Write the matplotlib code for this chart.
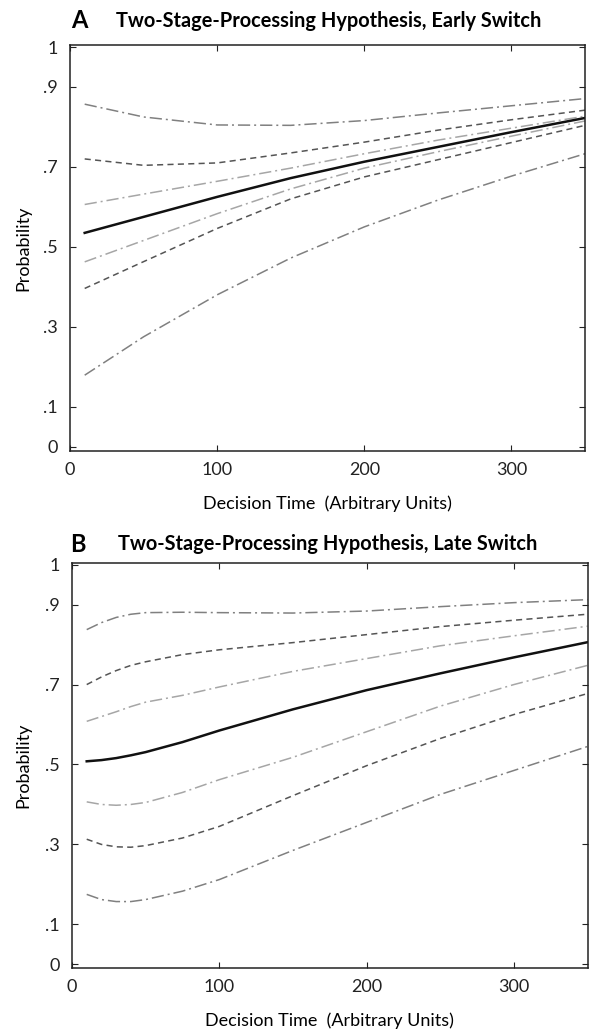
import matplotlib
matplotlib.use("Agg")
import matplotlib.pyplot as plt

plt.rcParams['font.family'] = ['Lato', 'DejaVu Sans']

# ---- panel A : early switch ----
xa = [10, 50, 100, 150, 200, 250, 300, 350]
a_solid = [0.535, 0.575, 0.625, 0.672, 0.713, 0.750, 0.787, 0.8225]
a_in_hi = [0.606, 0.632, 0.664, 0.697, 0.733, 0.767, 0.797, 0.827]
a_in_lo = [0.4625, 0.516, 0.583, 0.645, 0.697, 0.738, 0.777, 0.815]
a_da_hi = [0.720, 0.704, 0.710, 0.735, 0.762, 0.792, 0.818, 0.842]
a_da_lo = [0.396, 0.463, 0.546, 0.620, 0.675, 0.718, 0.761, 0.804]
a_out_hi = [0.857, 0.825, 0.805, 0.804, 0.816, 0.835, 0.853, 0.871]
a_out_lo = [0.179, 0.275, 0.380, 0.472, 0.550, 0.617, 0.677, 0.733]

# ---- panel B : late switch ----
xb = [10, 20, 30, 40, 50, 75, 100, 150, 200, 250, 300, 350]
b_solid = [0.508, 0.511, 0.516, 0.523, 0.531, 0.556, 0.585, 0.638, 0.686, 0.728, 0.768, 0.806]
b_in_hi = [0.608, 0.620, 0.632, 0.645, 0.656, 0.673, 0.694, 0.733, 0.765, 0.797, 0.822, 0.846]
b_in_lo = [0.4065, 0.400, 0.398, 0.400, 0.405, 0.430, 0.462, 0.518, 0.582, 0.646, 0.700, 0.748]
b_da_hi = [0.700, 0.719, 0.735, 0.748, 0.757, 0.775, 0.787, 0.805, 0.825, 0.845, 0.861, 0.876]
b_da_lo = [0.313, 0.300, 0.294, 0.293, 0.297, 0.316, 0.345, 0.422, 0.497, 0.565, 0.625, 0.6775]
b_out_hi = [0.8375, 0.855, 0.868, 0.876, 0.880, 0.881, 0.880, 0.879, 0.884, 0.895, 0.905, 0.9125]
b_out_lo = [0.175, 0.162, 0.157, 0.157, 0.162, 0.183, 0.212, 0.285, 0.355, 0.425, 0.485, 0.545]

yticks = [0, 0.1, 0.3, 0.5, 0.7, 0.9, 1]
ylabels = ['0', '.1', '.3', '.5', '.7', '.9', '1']
xticks = [0, 100, 200, 300]

dash = (0, (4, 2.8))
dashdot = (0, (8, 2.6, 1.3, 2.6))


def panel(ax, x, solid, in_hi, in_lo, da_hi, da_lo, out_hi, out_lo, ylab_x):
    for y in (out_hi, out_lo):
        ax.plot(x, y, color='#808080', lw=1.1, ls=dashdot)
    for y in (in_hi, in_lo):
        ax.plot(x, y, color='#a6a6a6', lw=1.1, ls=dashdot)
    for y in (da_hi, da_lo):
        ax.plot(x, y, color='#555555', lw=1.1, ls=dash)
    ax.plot(x, solid, color='#111111', lw=1.8)
    ax.set_xlim(0, 350)
    ax.set_ylim(-0.01, 1.005)
    ax.set_xticks(xticks)
    ax.set_yticks(yticks)
    ax.set_yticklabels(ylabels)
    ax.tick_params(direction='in', top=True, right=True, length=4,
                   width=0.8, labelsize=13, colors='#222222')
    ax.tick_params(axis='x', pad=8)
    ax.tick_params(axis='y', pad=9)
    for s in ax.spines.values():
        s.set_linewidth(1.1)
        s.set_color('#222222')
    ax.set_xlabel('Decision Time  (Arbitrary Units)', fontsize=13, va='center')
    ax.xaxis.set_label_coords(0.5, -0.13)
    ax.set_ylabel('Probability', fontsize=13, va='center')
    ax.yaxis.set_label_coords(ylab_x, 0.5)


fig = plt.figure(figsize=(5.92, 10.30), dpi=100)
axA = fig.add_axes([0.1182, 0.5624, 0.870, 0.3939])
axB = fig.add_axes([0.1216, 0.0599, 0.8708, 0.3938])

panel(axA, xa, a_solid, a_in_hi, a_in_lo, a_da_hi, a_da_lo, a_out_hi, a_out_lo, -0.091)
panel(axB, xb, b_solid, b_in_hi, b_in_lo, b_da_hi, b_da_lo, b_out_hi, b_out_lo, -0.095)

fig.text(71 / 592, 1 - 21 / 1030, 'A', fontsize=17, fontweight='bold', va='center', ha='left')
fig.text(116 / 592, 1 - 21 / 1030, 'Two-Stage-Processing Hypothesis, Early Switch',
         fontsize=14.4, fontweight='bold', va='center', ha='left')
fig.text(70 / 592, 1 - 544 / 1030, 'B', fontsize=17, fontweight='bold', va='center', ha='left')
fig.text(118 / 592, 1 - 544 / 1030, 'Two-Stage-Processing Hypothesis, Late Switch',
         fontsize=14.4, fontweight='bold', va='center', ha='left')

fig.savefig('out.png', dpi=100)
